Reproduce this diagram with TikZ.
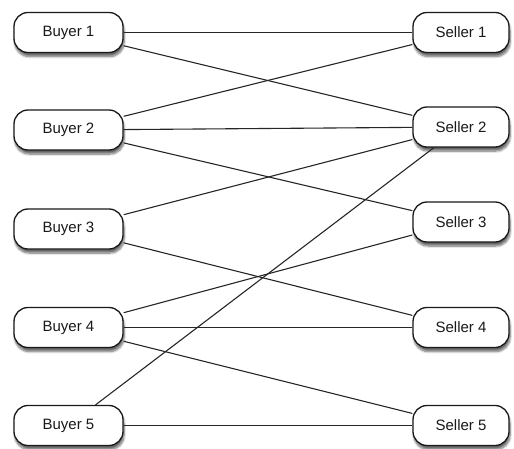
\documentclass[tikz,border=0pt]{standalone}
\usepackage{fontspec}
\setmainfont{Liberation Sans}
\usetikzlibrary{shadows.blur}
\begin{document}
\begin{tikzpicture}[x=1pt,y=-1pt,
  party/.style={draw=black!90, line width=1.3pt, fill=white, rounded corners=14pt,
    minimum height=40pt, inner sep=0pt, text=black!90,
    font=\fontsize{15}{17}\selectfont,
    blur shadow={shadow xshift=1pt, shadow yshift=-4pt, shadow blur steps=8, shadow opacity=60}},
  buyer/.style={party, minimum width=109pt},
  seller/.style={party, minimum width=96pt},
  link/.style={draw=black!85, line width=1.1pt}]
\useasboundingbox (0,0) rectangle (514,449);

% buyers (left column)
\node[buyer] (b1) at (68.5,32.5)  {Buyer 1};
\node[buyer] (b2) at (68.5,130) {Buyer 2};
\node[buyer] (b3) at (68.5,229) {Buyer 3};
\node[buyer] (b4) at (68.5,327.5) {Buyer 4};
\node[buyer] (b5) at (68.5,425.5) {Buyer 5};

% sellers (right column)
\node[seller] (s1) at (461,32.5)  {Seller 1};
\node[seller] (s2) at (461,127) {Seller 2};
\node[seller] (s3) at (461,222) {Seller 3};
\node[seller] (s4) at (461,327.5) {Seller 4};
\node[seller] (s5) at (461,425.5) {Seller 5};

% trading links
\draw[link] (b1) -- (s1);
\draw[link] (b1) -- (s2);
\draw[link] (b2) -- (s1);
\draw[link] (b2) -- (s2);
\draw[link] (b2) -- (s3);
\draw[link] (b3) -- (s2);
\draw[link] (b3) -- (s4);
\draw[link] (b4) -- (s3);
\draw[link] (b4) -- (s4);
\draw[link] (b4) -- (s5);
\draw[link] (b5) -- (s2);
\draw[link] (b5) -- (s5);
\end{tikzpicture}
\end{document}
